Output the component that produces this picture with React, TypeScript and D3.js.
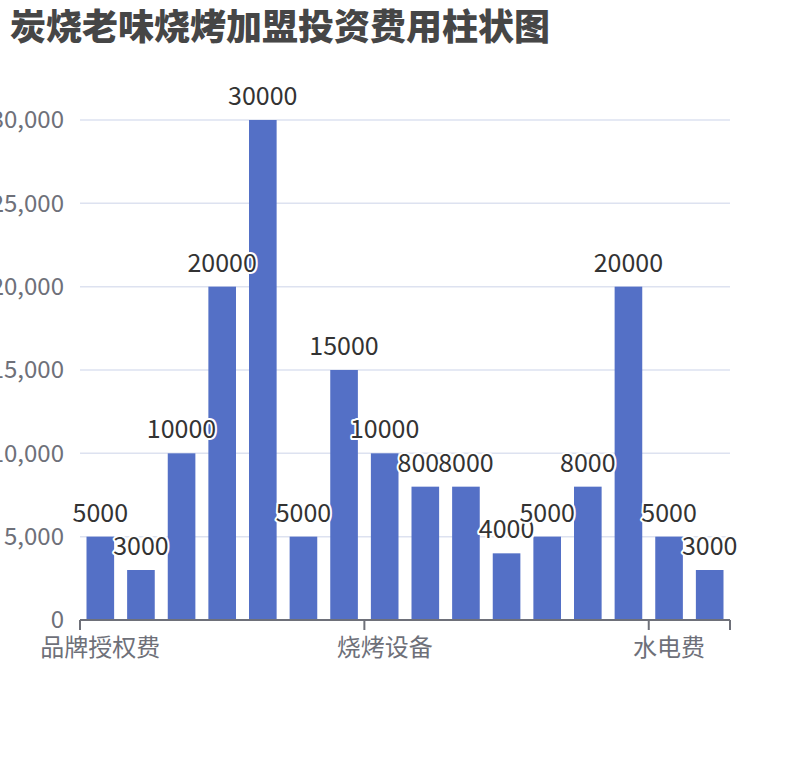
import React from 'react';
import * as d3 from 'd3';

// 加盟费用明细
const categories = [
  '品牌授权费', '加盟费', '保证金', '店面租金', '装修费用', '培训费', '首批物料', '烧烤设备',
  '厨房用具', '桌椅家具', '空调设备', '收银系统', '广告宣传', '员工工资', '水电费', '其他费用',
];
const costs = [5000, 3000, 10000, 20000, 30000, 5000, 15000, 10000, 8000, 8000, 4000, 5000, 8000, 20000, 5000, 3000];
const yTicks = [0, 5000, 10000, 15000, 20000, 25000, 30000];

const W = 810;
const H = 760;
const margin = { top: 120, right: 80, bottom: 140, left: 80 };
const FONT = '"Noto Sans CJK SC", "Noto Sans", sans-serif';

function App() {
  const innerW = W - margin.left - margin.right;
  const innerH = H - margin.top - margin.bottom;

  const x = d3.scaleBand<string>()
    .domain(categories)
    .range([0, innerW])
    .paddingInner(0.32)
    .paddingOuter(0.16);

  const y = d3.scaleLinear()
    .domain([0, 30000])
    .range([innerH, 0]);

  const fmt = d3.format(',');
  const step = x.step();
  // only every 7th label shows, like an auto interval
  const shownIdx = categories.map((_, i) => i).filter(i => i % 7 === 0);

  return (
    <div style={{ position: 'absolute', left: 0, top: 0 }}>
      <svg width={W} height={H} style={{ display: 'block', background: '#fff' }}>
        <text x={10} y={40} fontFamily={FONT} fontSize={36} fontWeight="900" fill="#464646">
          炭烧老味烧烤加盟投资费用柱状图
        </text>
        <g transform={`translate(${margin.left},${margin.top})`}>
          {/* grid + y labels */}
          {yTicks.map(t => (
            <g key={t}>
              {t > 0 && (
                <line x1={0} x2={innerW} y1={y(t)} y2={y(t)} stroke="#DDE2F0" strokeWidth={1.5} />
              )}
              <text x={-16} y={y(t)} dy="0.35em" textAnchor="end"
                fontFamily={FONT} fontSize={24} fill="#6E7079">
                {fmt(t)}
              </text>
            </g>
          ))}

          {/* bars */}
          {costs.map((v, i) => (
            <rect key={i} x={x(categories[i])} y={y(v)} width={x.bandwidth()} height={innerH - y(v)}
              fill="#5470C6" />
          ))}

          {/* x axis */}
          <line x1={0} x2={innerW} y1={innerH} y2={innerH} stroke="#6E7079" strokeWidth={2} />
          {shownIdx.map(i => (
            <line key={'t' + i} x1={i * step} x2={i * step} y1={innerH} y2={innerH + 10}
              stroke="#6E7079" strokeWidth={2} />
          ))}
          <line x1={innerW} x2={innerW} y1={innerH} y2={innerH + 10} stroke="#6E7079" strokeWidth={2} />
          {shownIdx.map(i => (
            <text key={'l' + i} x={(x(categories[i]) || 0) + x.bandwidth() / 2} y={innerH + 36}
              textAnchor="middle" fontFamily={FONT} fontSize={24} fill="#6E7079">
              {categories[i]}
            </text>
          ))}

          {/* value labels */}
          {costs.map((v, i) => (
            <text key={'v' + i} x={(x(categories[i]) || 0) + x.bandwidth() / 2} y={y(v) - 15}
              textAnchor="middle" fontFamily={FONT} fontSize={25} fill="#333"
              stroke="#fff" strokeWidth={4} strokeLinejoin="round" paintOrder="stroke">
              {v}
            </text>
          ))}
        </g>
      </svg>
    </div>
  );
}

export default App;
